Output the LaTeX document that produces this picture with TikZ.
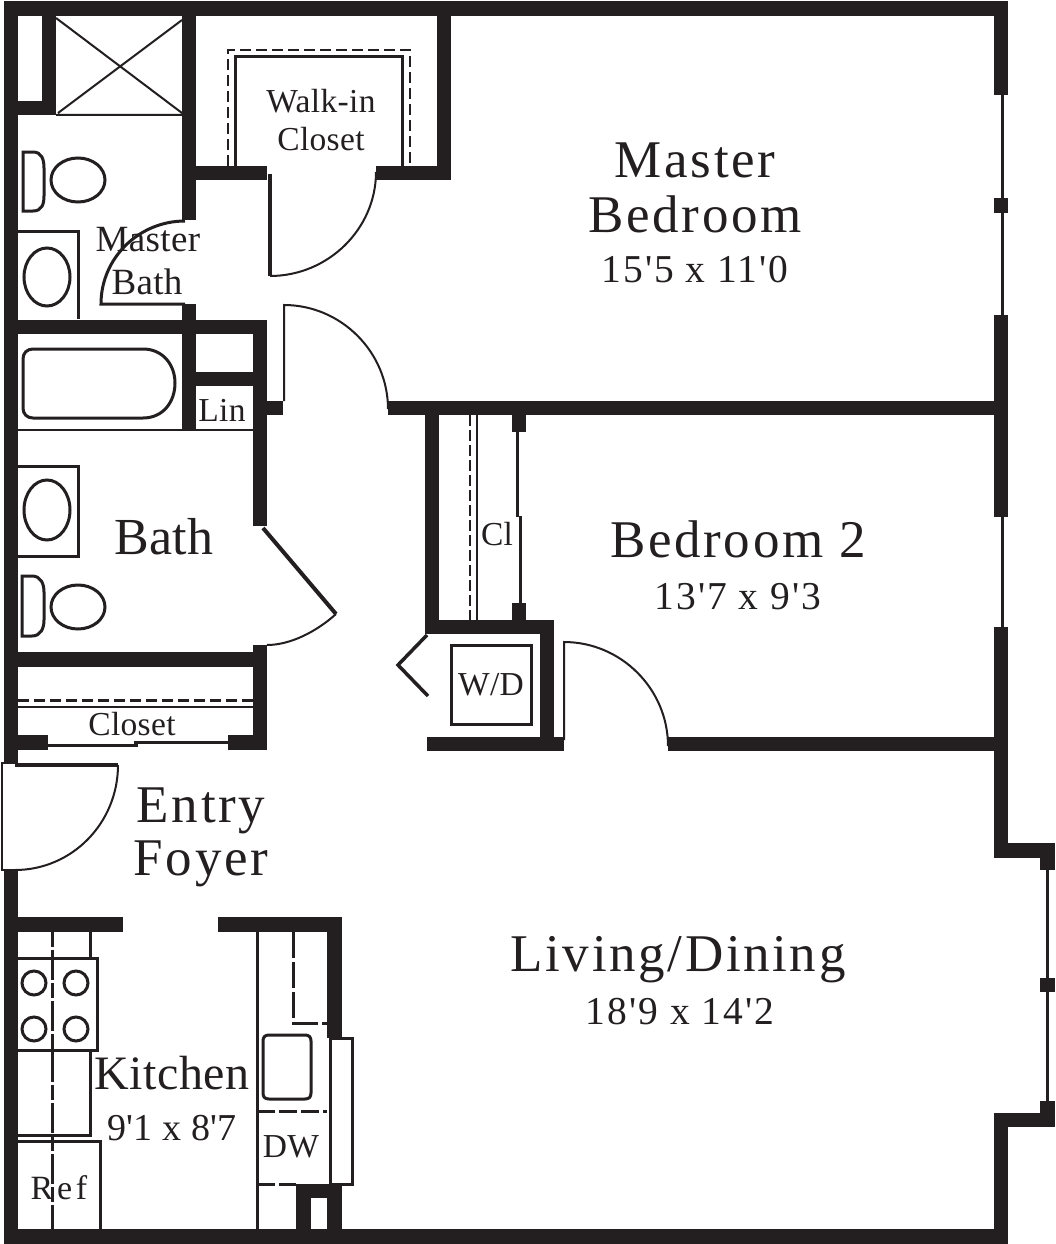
\documentclass[tikz,border=0pt]{standalone}
\usepackage{fontspec}
\newfontfamily\planfont[LetterSpace=5]{Liberation Serif}
\newfontfamily\plantight[LetterSpace=1]{Liberation Serif}
\newfontfamily\planwide[LetterSpace=11]{Liberation Serif}
\definecolor{ink}{HTML}{231F20}
\tikzset{
  wallfill/.style={fill=ink,draw=none},
  thin line/.style={draw=ink,line width=2pt},
  med line/.style={draw=ink,line width=3pt},
  fixture/.style={draw=ink,line width=3pt,fill=none},
  label/.style={inner sep=0pt,text=ink,align=center},
  bigtxt/.style={label,anchor=base,font=\planfont\fontsize{53}{56}\selectfont},
  midtxt/.style={label,font=\planfont\fontsize{39.5}{42}\selectfont},
  smalltxt/.style={label,font=\plantight\fontsize{33.5}{36}\selectfont},
}
\begin{document}
\begin{tikzpicture}[x=1pt,y=-1pt]
\useasboundingbox (0,0) rectangle (1056,1244);
\fill[white] (0,0) rectangle (1056,1244);
% walls
\foreach \a/\b/\c/\d in {
 4/1/1008/16, 4/1/18/763, 4/870/18/1244, 4/1229/1008/1244,
 994/1/1008/95, 994/198/1008/213, 994/315/1008/517, 994/627/1008/858,
 994/843/1055/858, 1040/843/1055/870, 1040/978/1055/992, 1040/1101/1055/1127,
 994/1113/1055/1127, 994/1113/1008/1244,
 388/401/994/415, 668/737/994/751,
 437/16/451/180, 195/166/267/180, 376/166/451/180,
 182/16/196/220, 182/304/196/431,
 42/16/56/115, 18/101/56/115,
 18/320/267/334, 253/320/267/526, 267/401/283/415, 196/372/253/386,
 253/645/267/750, 18/652/267/667,
 18/735/48/750, 228/735/253/750,
 425/415/439/634, 425/620/554/634, 540/620/554/751, 427/737/564/751,
 512/415/526/432, 512/603/526/620,
 18/917/123/932, 218/917/342/932, 327/917/342/1038,
 296/1184/342/1198, 296/1184/311/1229, 327/1184/342/1229}
 {\fill[wallfill] (\a,\b) rectangle (\c,\d);}
% windows
\draw[med line] (1002,95) -- (1002,198) (1002,213) -- (1002,315) (1002,517) -- (1002,627);
\draw[med line] (1047,870) -- (1047,978) (1047,992) -- (1047,1101);
% shower
\draw[thin line] (56,115) -- (182,115) (56,18) -- (182,113) (182,20) -- (58,113);
% walk-in closet
\draw[draw=ink,line width=2.5pt,dash pattern=on 11pt off 5pt] (228,166) -- (228,50) -- (410,50) -- (410,166);
\draw[med line] (235,166) -- (235,57) -- (402,57) -- (402,166);
% doors
\draw[med line] (185,304) -- (101,304) .. controls (101,258) and (139,221) .. (185,221);
\draw[line width=3.5pt,draw=ink] (270,174) -- (270,276);
\draw[thin line] (270,276) .. controls (328,276) and (376,229) .. (376,172);
\draw[thin line] (284,401) -- (284,305) .. controls (341,305) and (388,352) .. (388,409);
\draw[line width=4pt,draw=ink] (263,528) -- (336,614);
\draw[thin line] (336,614) .. controls (316,632) and (290,645) .. (267,645);
\draw[thin line] (564,740) -- (564,642) .. controls (621,642) and (668,689) .. (668,746);
\draw[thin line] (18,763) -- (2,763) -- (2,870) -- (18,870);
\draw[line width=3.5pt,draw=ink] (15,765) -- (118,765);
\draw[thin line] (118,765) .. controls (118,823) and (72,870) .. (15,870);
% master bath fixtures
\draw[fixture] (23,152) -- (33,152) .. controls (42,152) and (44,160) .. (44,168) -- (44,196) .. controls (44,204) and (42,211) .. (33,211) -- (23,211) -- cycle;
\draw[fixture] (78,180) ellipse (27 and 22);
\draw[med line] (18,231) -- (78,231) -- (78,319);
\draw[fixture] (47,277) ellipse (23 and 29);
% tub
\draw[fixture] (33,349) -- (143,349) .. controls (163,349) and (175,365) .. (175,383) .. controls (175,402) and (163,418) .. (143,418) -- (33,418) .. controls (27,418) and (23,414) .. (23,408) -- (23,359) .. controls (23,353) and (27,349) .. (33,349) -- cycle;
\draw[thin line] (18,430) -- (253,430);
% bath fixtures
\draw[med line] (18,466) -- (78,466) -- (78,556) -- (18,556);
\draw[fixture] (47,510) ellipse (23 and 30);
\draw[fixture] (22,576) -- (32,576) .. controls (41,576) and (44,584) .. (44,592) -- (44,620) .. controls (44,628) and (41,636) .. (32,636) -- (22,636) -- cycle;
\draw[fixture] (78,607) ellipse (27 and 22);
% hall closet
\draw[draw=ink,line width=3pt,dash pattern=on 11pt off 5pt] (18,700) -- (253,700);
\draw[thin line] (18,707) -- (253,707);
\draw[med line] (48,745) -- (138,745) (134,742) -- (228,742);
% Cl closet
\draw[draw=ink,line width=2.5pt,dash pattern=on 11pt off 4pt] (470,415) -- (470,620);
\draw[thin line] (477,415) -- (477,620);
\draw[med line] (517,432) -- (517,517) (520,516) -- (520,603);
\draw[line width=3.5pt,draw=ink] (427,635) -- (398,665) -- (428,696);
\draw[med line] (451.5,645) rectangle (531,724);
% kitchen left
\draw[draw=ink,line width=3pt,dash pattern=on 15pt off 3pt on 30pt off 3pt] (52,932) -- (52,1229);
\draw[med line] (90,932) -- (90,958);
\draw[med line] (18,958) -- (97,958) -- (97,1050) -- (18,1050);
\foreach \cx/\cy in {34/983,76/983,34/1029,76/1029}
 {\draw[fixture] (\cx,\cy) circle (12);}
\draw[med line] (90,1050) -- (90,1135) -- (18,1135);
\draw[med line] (18,1141) -- (100,1141) -- (100,1229);
% kitchen right
\draw[med line] (257,932) -- (257,1229);
\draw[draw=ink,line width=3pt,dash pattern=on 26pt off 4pt] (293,932) -- (293,1023) -- (327,1023);
\draw[fixture] (269,1035) -- (305,1035) .. controls (309,1035) and (311,1037) .. (311,1041) -- (311,1093) .. controls (311,1097) and (309,1099) .. (305,1099) -- (269,1099) .. controls (265,1099) and (263,1097) .. (263,1093) -- (263,1041) .. controls (263,1037) and (265,1035) .. (269,1035) -- cycle;
\draw[draw=ink,line width=3pt,dash pattern=on 18pt off 4pt] (257,1111) -- (327,1111);
\draw[draw=ink,line width=3pt,dash pattern=on 18pt off 4pt] (257,1184) -- (296,1184);
\draw[med line] (330,1038) rectangle (352,1184);
% labels
\node[bigtxt] (mb1) at (695,177) {Master};
\node[bigtxt] (mb2) at (695,232) {Bedroom};
\node[midtxt] (mb3) at (695,270) {15'5 x 11'0};
\node[smalltxt] (wi1) at (321,101) {Walk-in};
\node[smalltxt] (wi2) at (321,139) {Closet};
\node[label,font=\plantight\fontsize{37}{40}\selectfont] (mba1) at (148,240) {Master};
\node[label,font=\plantight\fontsize{37}{40}\selectfont] (mba2) at (147,282) {Bath};
\node[smalltxt] (lin) at (222,410) {Lin};
\node[label,anchor=base,font=\plantight\fontsize{52}{54}\selectfont] (bath) at (164,554) {Bath};
\node[smalltxt] (cl) at (497,534) {Cl};
\node[smalltxt] (clo) at (132,724) {Closet};
\node[smalltxt] (wd) at (491,685) {W/D};
\node[bigtxt] (bd1) at (738,557) {Bedroom 2};
\node[midtxt] (bd2) at (738,597) {13'7 x 9'3};
\node[bigtxt] (ef1) at (201,822) {Entry};
\node[bigtxt] (ef2) at (201,875) {Foyer};
\node[bigtxt] (ld1) at (678,971) {Living/Dining};
\node[midtxt] (ld2) at (680,1012) {18'9 x 14'2};
\node[label,font=\plantight\fontsize{48}{50}\selectfont] (k1) at (172,1073) {Kitchen};
\node[label,font=\plantight\fontsize{38}{40}\selectfont] (k2) at (172,1128) {9'1 x 8'7};
\node[label,font=\planwide\fontsize{34}{36}\selectfont] (ref) at (59,1188) {Ref};
\node[smalltxt] (dw) at (291,1147) {DW};
\end{tikzpicture}
\end{document}
